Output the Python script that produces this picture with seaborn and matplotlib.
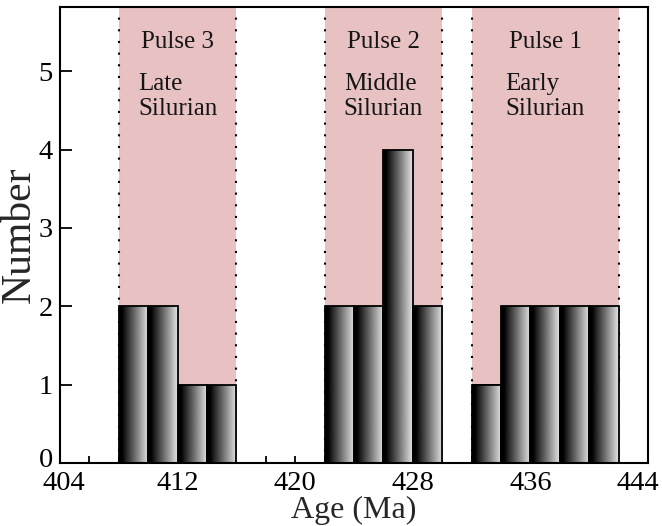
import numpy as np
import pandas as pd
import matplotlib
matplotlib.use("Agg")
import matplotlib.pyplot as plt
import matplotlib.transforms as mtransforms
import seaborn as sns

# Age classes (left edge of each 2 Ma bin) and number of samples per class
bin_start = [408, 410, 412, 414, 422, 424, 426, 428, 432, 434, 436, 438, 440]
counts = [2, 2, 1, 1, 2, 2, 4, 2, 1, 2, 2, 2, 2]
bin_width = 2

# Magmatic pulses
pulse_names = ["Pulse 3", "Pulse 2", "Pulse 1"]
pulse_periods = ["Late\nSilurian", "Middle\nSilurian", "Early\nSilurian"]
pulse_start = [408, 422, 432]
pulse_end = [416, 430, 442]

x_ticks = [404, 412, 420, 428, 436, 444]
y_ticks = [0, 1, 2, 3, 4, 5]

sns.set_theme(style="ticks")
plt.rcParams["font.family"] = ["Liberation Serif", "DejaVu Serif"]
plt.rcParams["axes.linewidth"] = 1.5

df = pd.DataFrame({"age": np.array(bin_start) + bin_width / 2, "n": counts})

fig = plt.figure(figsize=(6.62, 5.26), dpi=100)
ax = fig.add_axes([0.0906, 0.1198, 0.979 - 0.0906, 0.9867 - 0.1198])

# shaded pulse intervals with dotted borders
pink = "#e8c1c2"
for s, e in zip(pulse_start, pulse_end):
    ax.axvspan(s, e, color=pink, lw=0, zorder=0.2)
    for xv in (s, e):
        ax.axvline(xv, color="black", lw=1.5, ls=(0, (1, 4.6)), zorder=0.4)

sns.histplot(data=df, x="age", weights="n", binwidth=bin_width,
             binrange=(404, 444), ax=ax, facecolor="none",
             edgecolor="black", linewidth=1.3, alpha=1, zorder=3)

# horizontal black-to-grey shading inside each bar
t = np.linspace(0, 1, 256)
shade = np.clip((t - 0.1) / 0.9, 0, 1) * 0.9
grad = shade[np.newaxis, :]
for p in ax.patches:
    h = p.get_height()
    if h <= 0:
        p.set_visible(False)
        continue
    x0 = p.get_x()
    w = p.get_width()
    im = ax.imshow(grad, extent=[x0, x0 + w, 0, h], aspect="auto",
                   cmap="gray", vmin=0, vmax=1, zorder=2.5,
                   interpolation="bilinear")
    im.set_clip_path(p)

for name, period, s, e in zip(pulse_names, pulse_periods, pulse_start, pulse_end):
    xc = (s + e) / 2
    ax.text(xc, 5.37, name, ha="center", va="center", fontsize=18,
            color="#151515", zorder=4)
    ax.text(xc, 4.68, period, ha="center", va="center", fontsize=18,
            multialignment="left", linespacing=1.18, color="#151515", zorder=4)

ax.set_xlim(404, 444)
ax.set_ylim(0, 5.82)
ax.set_xticks(x_ticks)
ax.set_xticks(np.arange(404, 445, 2), minor=True)
ax.set_yticks(y_ticks)
ax.tick_params(axis="x", which="both", direction="in", length=5, width=1.3,
               labelsize=20.5, pad=6, colors="black")
ax.tick_params(axis="y", which="major", direction="in", length=8.5, width=1.3,
               labelsize=20.5, pad=5, colors="black")
ax.set_xlabel("Age (Ma)", fontsize=23, labelpad=0)
ax.set_ylabel("Number", fontsize=30, labelpad=0)
for sp in ax.spines.values():
    sp.set_visible(True)
    sp.set_linewidth(1.5)
    sp.set_color("black")
    sp.set_zorder(5)

# nudge the corner labels inward so they stay clear of each other and the edge
xl = ax.get_xticklabels()
xl[0].set_transform(xl[0].get_transform() +
                    mtransforms.ScaledTranslation(4 / 100, 0, fig.dpi_scale_trans))
xl[-1].set_transform(xl[-1].get_transform() +
                     mtransforms.ScaledTranslation(-10 / 100, 0, fig.dpi_scale_trans))
yl = ax.get_yticklabels()
yl[0].set_transform(yl[0].get_transform() +
                    mtransforms.ScaledTranslation(0, 5 / 100, fig.dpi_scale_trans))

fig.savefig("out.png", dpi=100, facecolor="white")
